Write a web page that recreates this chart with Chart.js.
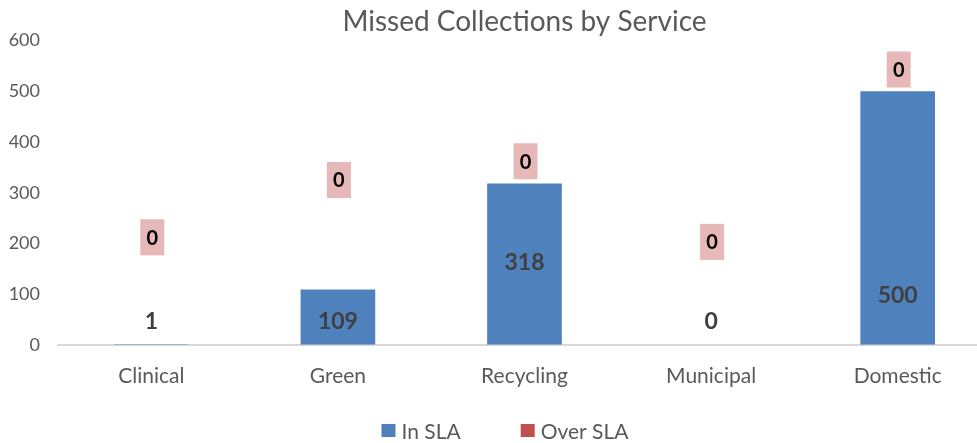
<!DOCTYPE html>
<html>
<head>
<meta charset="utf-8">
<script src="https://cdn.jsdelivr.net/npm/chart.js@4.4.0/dist/chart.umd.min.js"></script>
<style>
  html, body { margin: 0; padding: 0; background: #fff; overflow: hidden; }
  #wrap { width: 977px; height: 443px; overflow: hidden; }
</style>
</head>
<body>
<div id="wrap"><canvas id="grafico1" width="991" height="443"></canvas></div>
<script>
var services = ['Clinical', 'Green', 'Recycling', 'Municipal', 'Domestic'];
var inSla = [1, 109, 318, 0, 500];
var overSla = [0, 0, 0, 0, 0];
// where Excel left the data labels (in axis units)
var inSlaLabelAt = [45, 45, 163, 45, 97];
var overSlaLabelAt = [212, 325, 362, 203, 543];
var yTicks = [0, 100, 200, 300, 400, 500, 600];

var labelPlugin = {
  id: 'labels',
  afterDatasetsDraw: function(chart) {
    var ctx = chart.ctx;
    var y = chart.scales.y;
    ctx.save();
    ctx.textAlign = 'center';
    ctx.textBaseline = 'middle';
    var m0 = chart.getDatasetMeta(0);
    var m1 = chart.getDatasetMeta(1);
    for (var i = 0; i < services.length; i++) {
      var x = m0.data[i].x;
      ctx.font = 'bold 23px Lato';
      ctx.fillStyle = '#404040';
      ctx.fillText(inSla[i], x, y.getPixelForValue(inSlaLabelAt[i]));

      var x1 = m1.data[i].x + 1;
      var py = y.getPixelForValue(overSlaLabelAt[i]);
      ctx.fillStyle = '#E6B9B8';
      ctx.fillRect(x1 - 12, py - 18, 24, 36);
      ctx.font = 'bold 20px Lato';
      ctx.fillStyle = '#000';
      ctx.fillText(overSla[i], x1, py + 1);
    }
    ctx.restore();
  }
};

// legend drawn by hand so the gap between items can be wide without a tall box
var legendPlugin = {
  id: 'simpleLegend',
  afterDraw: function(chart) {
    var ctx = chart.ctx;
    ctx.save();
    ctx.font = '21px Lato';
    ctx.textBaseline = 'middle';
    var gap = 60, box = 14, txtGap = 6;
    var sets = chart.data.datasets;
    var total = 0;
    sets.forEach(function(ds, i) {
      total += box + txtGap + ctx.measureText(ds.label).width + (i ? gap : 0);
    });
    var x = 505 - total / 2;
    var yc = 431;
    sets.forEach(function(ds, i) {
      if (i) x += gap;
      ctx.fillStyle = ds.backgroundColor;
      ctx.fillRect(x, yc - 7, box, 13);
      x += box + txtGap;
      ctx.fillStyle = '#595959';
      ctx.fillText(ds.label, x, yc + 1);
      x += ctx.measureText(ds.label).width;
    });
    ctx.restore();
  }
};

var chartdata = {
  labels: services,
  datasets: [
    {
      label: 'In SLA',
      backgroundColor: '#4F81BD',
      data: inSla
    },
    {
      label: 'Over SLA',
      backgroundColor: '#C0504D',
      data: overSla
    }
  ]
};

var ctx = document.getElementById('grafico1');

var bar = new Chart(ctx, {
  type: 'bar',
  data: chartdata,
  plugins: [labelPlugin, legendPlugin],
  options: {
    responsive: false,
    animation: false,
    layout: { padding: { left: 0, right: 0, top: 0, bottom: 35 } },
    datasets: { bar: { barPercentage: 0.4, categoryPercentage: 1 } },
    plugins: {
      tooltip: { enabled: false },
      legend: { display: false },
      title: {
        display: true,
        text: 'Missed Collections by Service',
        fullSize: false,
        color: '#595959',
        font: { family: 'Lato', size: 28, weight: 'normal' },
        padding: { top: 5, bottom: 2 }
      }
    },
    scales: {
      x: {
        stacked: true,
        grid: { display: false, drawTicks: false },
        border: { display: true, color: '#D9D9D9', width: 2 },
        ticks: {
          color: '#595959',
          font: { family: 'Lato', size: 21 },
          padding: 19
        }
      },
      y: {
        stacked: true,
        min: 0,
        max: 600,
        afterBuildTicks: function(axis) {
          axis.ticks = yTicks.map(function(v) { return { value: v }; });
        },
        afterFit: function(axis) { axis.width = 58; },
        grid: { display: false, drawTicks: false },
        border: { display: false },
        ticks: {
          color: '#595959',
          font: { family: 'Lato', size: 18 },
          padding: 18
        }
      }
    }
  }
});
</script>
</body>
</html>
